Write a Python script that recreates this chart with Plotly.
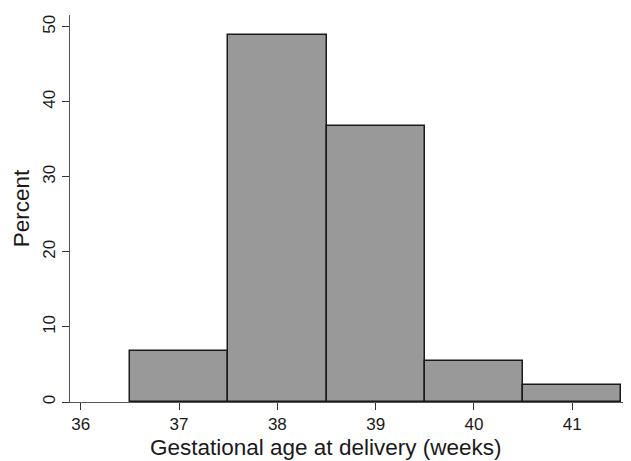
import plotly.graph_objects as go

weeks = [37, 38, 39, 40, 41]
percent = [6.85, 48.9, 36.8, 5.4, 2.2]
x_ticks = [36, 37, 38, 39, 40, 41]
y_ticks = [0, 10, 20, 30, 40, 50]
x_title = "Gestational age at delivery (weeks)"
y_title = "Percent"

fig = go.Figure(go.Bar(
    x=weeks, y=percent, width=1,
    marker=dict(color="#999999", line=dict(color="#1a1a1a", width=1.5)),
))

font = "Liberation Sans, Arial, sans-serif"
fig.update_layout(
    width=623, height=453,
    margin=dict(l=62, r=1, t=7, b=59),
    plot_bgcolor="white", paper_bgcolor="white",
    showlegend=False, bargap=0,
    font=dict(family=font, color="#1a1a1a"),
    xaxis=dict(
        range=[35.891, 41.587], tickvals=x_ticks, ticks="outside", ticklen=7,
        tickcolor="#333", tickwidth=1, showline=True, linecolor="#555", linewidth=1,
        showgrid=False, zeroline=False, tickfont=dict(size=17, family=font),
        automargin=False,
    ),
    yaxis=dict(
        range=[0, 51.56], tickvals=y_ticks, ticks="outside", ticklen=7,
        tickcolor="#333", tickwidth=1, showline=True, linecolor="#555", linewidth=1,
        showgrid=False, zeroline=False, tickangle=-90, tickfont=dict(size=17, family=font),
        automargin=False,
        title=dict(text=y_title, font=dict(size=22.5, family=font), standoff=4),
    ),
    annotations=[dict(
        text=x_title, xref="paper", yref="paper", x=0.457, y=-0.117,
        xanchor="center", yanchor="middle", showarrow=False,
        font=dict(size=22.5, family=font, color="#1a1a1a"),
    )],
)
fig.write_html("out.html")
